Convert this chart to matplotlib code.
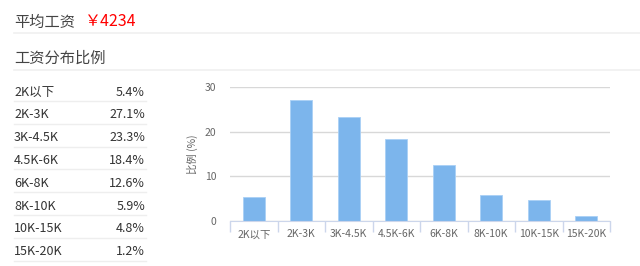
import matplotlib
matplotlib.use("Agg")
import matplotlib.pyplot as plt
from matplotlib.lines import Line2D

plt.rcParams['font.family'] = ['Noto Sans CJK SC', 'DejaVu Sans']

avg_salary = 4234
categories = ["2K以下", "2K-3K", "3K-4.5K", "4.5K-6K", "6K-8K", "8K-10K", "10K-15K", "15K-20K"]
percents = [5.4, 27.1, 23.3, 18.4, 12.6, 5.9, 4.8, 1.2]
yticks = [0, 10, 20, 30]

W, H = 640, 266
fig = plt.figure(figsize=(W / 100, H / 100), dpi=100)

def fx(x):
    return x / W

def fy(y):
    return 1 - y / H

def hline(x0, x1, y, color="#eeeeee", lw=1.0):
    fig.add_artist(Line2D([fx(x0), fx(x1)], [fy(y), fy(y)], color=color, lw=lw,
                          transform=fig.transFigure))

# Header
fig.text(fx(14), fy(22), "平均工资", fontsize=11, color="#444444", va="center", ha="left")
fig.text(fx(84), fy(22), "￥" + str(avg_salary), fontsize=11.5, color="#ff0000", va="center", ha="left")
hline(14, 640, 32.5, color="#f0f0f0", lw=1.2)
fig.text(fx(14), fy(58), "工资分布比例", fontsize=11, color="#444444", va="center", ha="left")
hline(14, 640, 69.5, color="#f0f0f0", lw=1.2)

# Table
row0, step = 92, 22.8
for i, (c, p) in enumerate(zip(categories, percents)):
    y = row0 + i * step
    fig.text(fx(14), fy(y), c, fontsize=9, color="#333333", va="center", ha="left")
    fig.text(fx(145), fy(y), f"{p}%", fontsize=9, color="#333333", va="center", ha="right")
    hline(14, 146, y + 9, color="#eeeeee", lw=1.0)

# Bar chart
ax = fig.add_axes([fx(230), fy(221), (610 - 230) / W, (221 - 87) / H])
x = list(range(len(categories)))
ax.bar(x, percents, width=0.46, color="#7cb5ec", edgecolor="#a9d0f5", linewidth=0.6, zorder=3)
ax.set_xlim(-0.5, len(categories) - 0.5)
ax.set_ylim(0, 30)
ax.set_yticks(yticks)
ax.set_yticklabels([str(v) for v in yticks])
ax.grid(axis="y", color="#d8d8d8", lw=1.0, zorder=0)
for s in ["top", "right", "left"]:
    ax.spines[s].set_visible(False)
ax.spines["bottom"].set_color("#ccd6eb")
ax.spines["bottom"].set_zorder(4)
ax.tick_params(axis="y", length=0, labelsize=7.5, labelcolor="#666666", pad=10)
ax.set_xticks(x)
ax.set_xticklabels(categories)
ax.tick_params(axis="x", which="major", length=0, labelsize=7.5, labelcolor="#666666", pad=6)
ax.set_xticks([i - 0.5 for i in range(len(categories) + 1)], minor=True)
ax.tick_params(axis="x", which="minor", length=8, color="#ccd6eb", width=1)
ax.set_ylabel("比例 (%)", fontsize=7.5, color="#666666", labelpad=5)

fig.savefig("out.png", dpi=100, facecolor="white")
